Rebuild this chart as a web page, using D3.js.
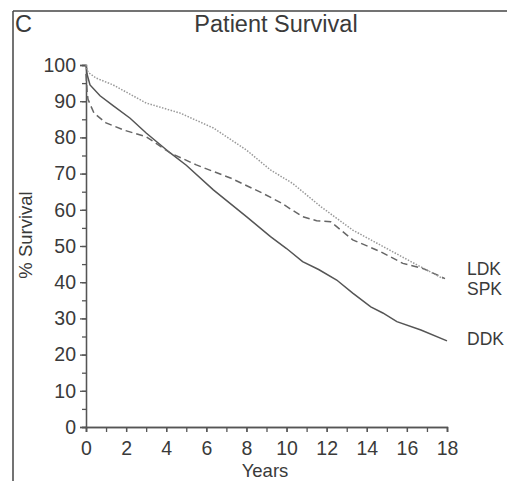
<!DOCTYPE html>
<html>
<head>
<meta charset="utf-8">
<script src="https://d3js.org/d3.v7.min.js"></script>
<style>
    body { margin: 0; background: #fff; }
    svg { font-family: 'Liberation Sans', Arial, sans-serif; }
    .axis path, .axis line { stroke: #555; stroke-width: 1.3; }
    .axis text { fill: #3a3a3a; font-size: 19.5px; }
    .label { fill: #3a3a3a; font-size: 18.5px; }
    .endlabel { fill: #3a3a3a; font-size: 17.5px; }
    .title { fill: #3a3a3a; font-size: 23.5px; }
</style>
</head>
<body>
<svg width="507" height="481"></svg>
<script>
// series (years, % survival)
const ddkYears = [0, 0.05, 0.2, 0.7, 1.35, 2.2, 3, 4.2, 5, 6.35, 8, 9.2, 10, 10.8, 11.6, 12.5, 13.3, 14.2, 14.8, 15.5, 16.7, 18]
const ddkValues = [100, 97.5, 94.5, 91.5, 88.8, 85.3, 81.2, 75.7, 72.3, 65.5, 58.1, 52.6, 49.3, 45.7, 43.5, 40.6, 37, 33.2, 31.5, 29.1, 26.8, 23.8]

const spkYears = [0, 0.05, 0.1, 0.4, 1, 1.9, 3, 4.2, 5.5, 7.2, 8.8, 9.7, 10.8, 11.5, 12.2, 13.3, 14.7, 15.8, 16.8, 17.9]
const spkValues = [97.5, 93, 90.5, 86.7, 84, 82, 80.2, 75.7, 72.4, 68.8, 64.6, 62, 58.1, 57, 56.7, 51.7, 48.4, 45.2, 43.8, 41]

const ldkYears = [0, 0.1, 0.5, 1.35, 3, 4.7, 6.35, 8, 9.2, 10.3, 11.7, 13.3, 15.3, 16.5, 17.8]
const ldkValues = [100, 98, 96.4, 94.5, 89.5, 86.7, 82.6, 76.5, 71, 67.3, 60.9, 54.4, 48.4, 44.8, 41]

const xTicks = [0, 2, 4, 6, 8, 10, 12, 14, 16, 18]
const yTicks = [0, 10, 20, 30, 40, 50, 60, 70, 80, 90, 100]

const seriesNames = ['LDK', 'SPK', 'DDK']

const svg = d3.select('svg')

const plotLeft = 86, plotRight = 447, plotTop = 65, plotBottom = 427

const xScale = d3.scaleLinear()
    .domain([0, 18])
    .range([plotLeft, plotRight])

const yScale = d3.scaleLinear()
    .domain([0, 100])
    .range([plotBottom, plotTop])

// frame lines of the panel
svg.append('line')
    .attr('x1', 13).attr('y1', 11).attr('x2', 507).attr('y2', 11)
    .attr('stroke', '#444').attr('stroke-width', 1.5)
svg.append('line')
    .attr('x1', 13).attr('y1', 11).attr('x2', 13).attr('y2', 481)
    .attr('stroke', '#444').attr('stroke-width', 1.5)

// minor ticks
svg.append('g')
    .attr('class', 'axis')
    .attr('transform', `translate(0, ${plotBottom})`)
    .call(d3.axisBottom(xScale).ticks(18).tickSize(5).tickFormat(''))
svg.append('g')
    .attr('class', 'axis')
    .attr('transform', `translate(${plotLeft}, 0)`)
    .call(d3.axisLeft(yScale).ticks(20).tickSize(4).tickFormat(''))

svg.append('g')
    .attr('class', 'axis')
    .attr('transform', `translate(0, ${plotBottom})`)
    .call(d3.axisBottom(xScale).tickValues(xTicks).tickSize(5).tickPadding(9))

svg.append('g')
    .attr('class', 'axis')
    .attr('transform', `translate(${plotLeft}, 0)`)
    .call(d3.axisLeft(yScale).tickValues(yTicks).tickSize(6).tickPadding(4))

const line = d3.line()
    .x((d) => xScale(d[0]))
    .y((d) => yScale(d[1]))

const series = [
    { name: 'DDK', pts: d3.zip(ddkYears, ddkValues), color: '#555', dash: null, w: 1.5 },
    { name: 'SPK', pts: d3.zip(spkYears, spkValues), color: '#666', dash: '7,4', w: 1.5 },
    { name: 'LDK', pts: d3.zip(ldkYears, ldkValues), color: '#999', dash: '1.5,1.5', w: 1.5 }
]

svg.selectAll('.curve')
    .data(series)
    .enter()
    .append('path')
    .attr('class', 'curve')
    .attr('d', (s) => line(s.pts))
    .attr('fill', 'none')
    .attr('stroke', (s) => s.color)
    .attr('stroke-width', (s) => s.w)
    .attr('stroke-dasharray', (s) => s.dash)

// end labels
const labelY = { LDK: 275, SPK: 295, DDK: 345 }
svg.selectAll('.endlabel')
    .data(seriesNames)
    .enter()
    .append('text')
    .attr('class', 'endlabel')
    .attr('x', 467)
    .attr('y', (n) => labelY[n])
    .text((n) => n)

svg.append('text')
    .attr('class', 'title')
    .attr('x', 15)
    .attr('y', 32)
    .text('C')

svg.append('text')
    .attr('class', 'title')
    .attr('x', 276)
    .attr('y', 32)
    .attr('text-anchor', 'middle')
    .text('Patient Survival')

svg.append('text')
    .attr('class', 'label')
    .attr('x', -235)
    .attr('y', 32)
    .attr('transform', 'rotate(-90)')
    .attr('text-anchor', 'middle')
    .text('% Survival')

svg.append('text')
    .attr('class', 'label')
    .attr('x', 265)
    .attr('y', 477)
    .attr('text-anchor', 'middle')
    .text('Years')
</script>
</body>
</html>
